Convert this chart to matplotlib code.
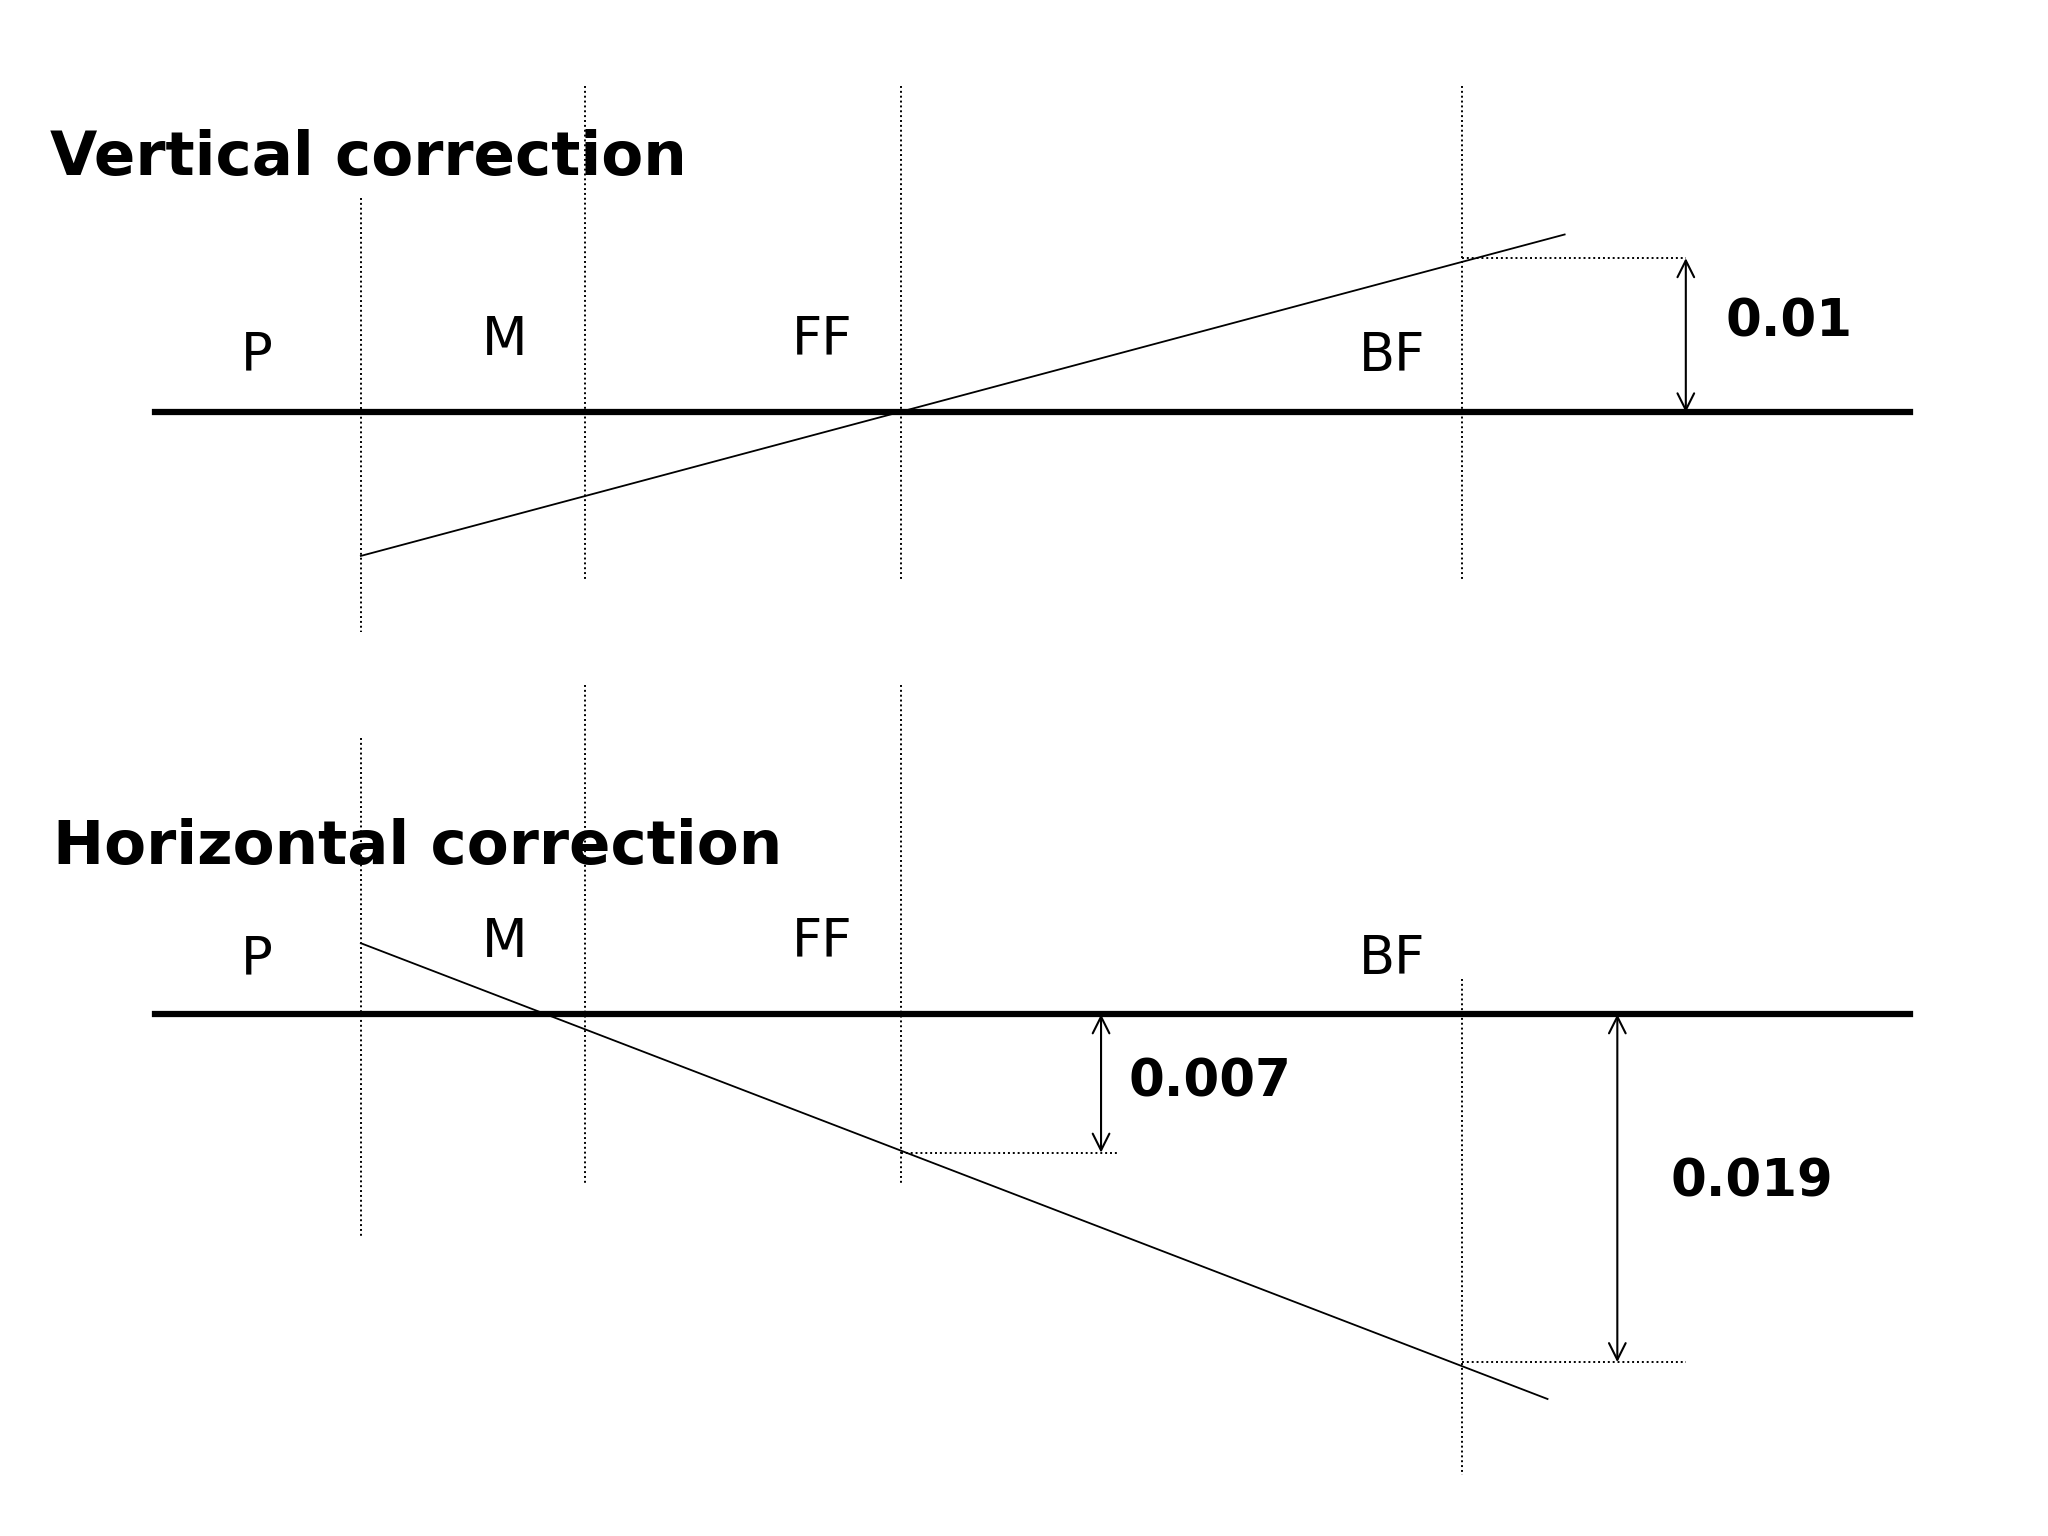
import matplotlib.pyplot as plt

# plane positions (x) and labels
planes = ['P', 'M', 'FF', 'BF']
plane_x = [195, 383, 624, 1057]
dotted_x = [274, 444, 684, 1110]

# vertical correction section
v_base = 313
v_line = [(274, 422), (1188, 178)]
v_value = '0.01'
v_off = 196

# horizontal correction section
h_base = 770
h_line = [(274, 716), (1175, 1062)]
h_values = ['0.007', '0.019']
h_offs = [875, 1034]

fig = plt.figure(figsize=(20.48, 15.36), dpi=100)
ax = fig.add_axes([0, 0, 1, 1])
ax.set_xlim(0, 1555)
ax.set_ylim(1166, 0)
ax.axis('off')

dot = dict(color='black', lw=1.4, linestyle=(0, (1, 1.5)))
arr = dict(arrowstyle='<->', lw=1.5, color='black', mutation_scale=30, shrinkA=0, shrinkB=0)

# ---- vertical ----
ax.text(38, 120, 'Vertical correction', fontsize=44, fontweight='bold', va='center')
v_spans = [(150, 480), (65, 440), (65, 440), (65, 440)]
for x, (a, b) in zip(dotted_x, v_spans):
    ax.plot([x, x], [a, b], **dot)
for lab, x, y in zip(planes, plane_x, [270, 258, 258, 270]):
    ax.text(x, y, lab, fontsize=38, ha='center', va='center')
ax.plot([118, 1450], [v_base, v_base], color='black', lw=4.5)
ax.plot([p[0] for p in v_line], [p[1] for p in v_line], color='black', lw=1.3)
ax.plot([1110, 1280], [v_off, v_off], **dot)
ax.annotate('', xy=(1280, v_off), xytext=(1280, v_base), arrowprops=arr)
ax.text(1310, 245, v_value, fontsize=37, fontweight='bold', va='center')

# ---- horizontal ----
ax.text(40, 643, 'Horizontal correction', fontsize=44, fontweight='bold', va='center')
h_spans = [(560, 938), (520, 898), (520, 898), (743, 1120)]
for x, (a, b) in zip(dotted_x, h_spans):
    ax.plot([x, x], [a, b], **dot)
for lab, x, y in zip(planes, plane_x, [728, 715, 715, 728]):
    ax.text(x, y, lab, fontsize=38, ha='center', va='center')
ax.plot([118, 1450], [h_base, h_base], color='black', lw=4.5)
ax.plot([p[0] for p in h_line], [p[1] for p in h_line], color='black', lw=1.3)

ax.plot([684, 848], [h_offs[0], h_offs[0]], **dot)
ax.annotate('', xy=(836, h_base), xytext=(836, h_offs[0]), arrowprops=arr)
ax.text(857, 822, h_values[0], fontsize=37, fontweight='bold', va='center')

ax.plot([1110, 1280], [h_offs[1], h_offs[1]], **dot)
ax.annotate('', xy=(1228, h_base), xytext=(1228, h_offs[1]), arrowprops=arr)
ax.text(1268, 898, h_values[1], fontsize=37, fontweight='bold', va='center')

fig.savefig('out.png', dpi=100, facecolor='white')
